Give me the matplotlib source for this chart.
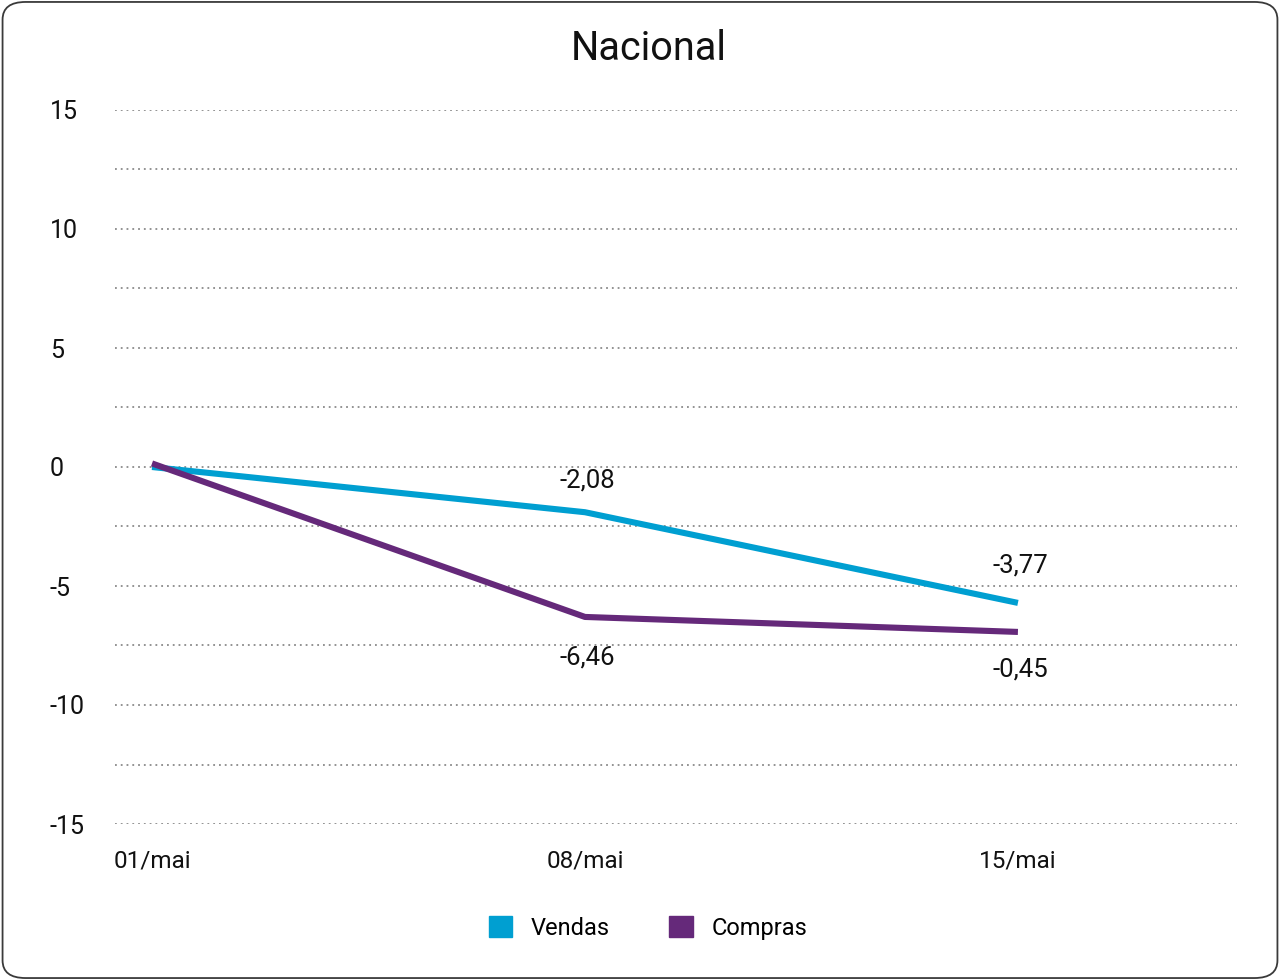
import matplotlib
matplotlib.use("Agg")
import matplotlib.pyplot as plt
from matplotlib.patches import Patch, FancyBboxPatch

plt.rcParams['font.family'] = ['Roboto', 'DejaVu Sans']

# ---- data ----
title = "Nacional"
categories = ["01/mai", "08/mai", "15/mai"]
vendas = [0.0, -1.9, -5.71]
compras = [0.15, -6.3, -6.93]
vendas_labels = ["", "-2,08", "-3,77"]
compras_labels = ["", "-6,46", "-0,45"]
y_ticks = [-15, -10, -5, 0, 5, 10, 15]
y_tick_labels = ["-15", "-10", "-5", "0", "5", "10", "15"]
y_minor_ticks = [-12.5, -7.5, -2.5, 2.5, 7.5, 12.5]
series_names = ["Vendas", "Compras"]

# label offsets (points) - styling only
vendas_label_dy = [0, 23, 27]
compras_label_dy = [0, -29, -27]

c_vendas = "#009FD1"
c_compras = "#65297A"

fig = plt.figure(figsize=(12.8, 9.8), dpi=100)
fig.patch.set_facecolor("white")

border = FancyBboxPatch((0.002, 0.002), 0.996, 0.996,
                        boxstyle="round,pad=0,rounding_size=0.018",
                        transform=fig.transFigure, fill=False,
                        edgecolor="#3a3a3a", linewidth=1.3, zorder=0)
fig.add_artist(border)

top_px, bot_px = 110, 824
ax = fig.add_axes([115/1280, 1-bot_px/980, (1237-115)/1280, (bot_px-top_px)/980])
x = list(range(len(categories)))

ax.plot(x, vendas, color=c_vendas, lw=4.4, solid_joinstyle="round",
        solid_capstyle="butt", zorder=3)
ax.plot(x, compras, color=c_compras, lw=4.4, solid_joinstyle="round",
        solid_capstyle="butt", zorder=4)

for xi, v, lab, dy in zip(x, vendas, vendas_labels, vendas_label_dy):
    if lab:
        ax.annotate(lab, (xi, v), xytext=(2, dy), textcoords="offset points",
                    ha="center", va="center", fontsize=18.5, color="#111111")
for xi, v, lab, dy in zip(x, compras, compras_labels, compras_label_dy):
    if lab:
        ax.annotate(lab, (xi, v), xytext=(2, dy), textcoords="offset points",
                    ha="center", va="center", fontsize=18.5, color="#111111")

ax.set_xlim(-0.0855, 2.506)
ax.set_ylim(-15, 15)
ax.set_xticks(x)
ax.set_xticklabels(categories, fontsize=17.5, color="#111111")
ax.set_yticks(y_ticks)
ax.set_yticklabels(y_tick_labels, fontsize=18, color="#111111", ha="left")
ax.set_yticks(y_minor_ticks, minor=True)
ax.tick_params(axis="both", which="both", length=0)
ax.tick_params(axis="y", pad=47)
ax.tick_params(axis="x", pad=18)
ax.grid(True, axis="y", which="both", color="#8a8a8a", linestyle=(0, (1, 2.2)),
        linewidth=1.3)
ax.grid(False, axis="x")
for s in ax.spines.values():
    s.set_visible(False)
ax.set_axisbelow(True)

fig.text(649/1280, 1-49/980, title, ha="center", va="center", fontsize=28.5,
         color="#111111")

handles = [Patch(facecolor=c_vendas, edgecolor=c_vendas),
           Patch(facecolor=c_compras, edgecolor=c_compras)]
fig.legend(handles, series_names, loc="center", bbox_to_anchor=(648/1280, 1-928/980),
           ncol=2, frameon=False, fontsize=17, handlelength=1.0, handleheight=1.0,
           handletextpad=0.8, columnspacing=2.5)

fig.savefig("out.png", dpi=100, facecolor="white")
